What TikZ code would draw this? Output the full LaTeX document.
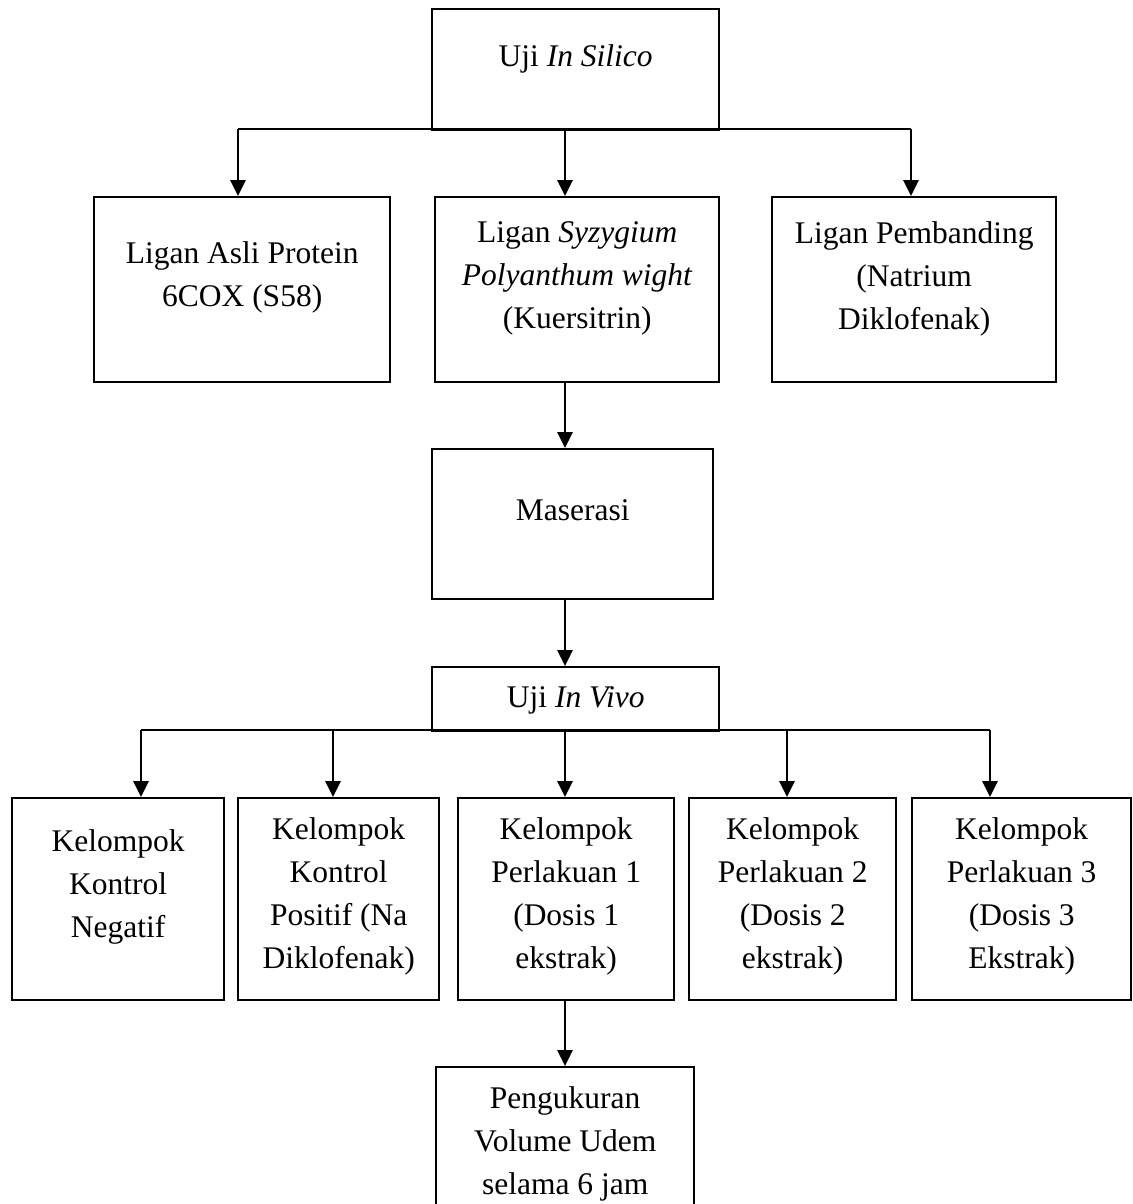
\documentclass[tikz,border=0pt]{standalone}
\usepackage{fontspec}
\setmainfont{Liberation Serif}
\usetikzlibrary{arrows.meta}

\tikzset{
  kotak/.style={draw, line width=2.4pt, inner sep=0pt, anchor=north west,
    font=\fontsize{31.5}{43}\selectfont},
  garis/.style={line width=2.8pt},
  panah/.style={line width=2.8pt, -{Triangle[width=15pt,length=16pt]}}
}
% isi kotak: lebar, tinggi, jarak atas, teks
\newcommand{\isi}[4]{\parbox[c][#2pt][t]{#1pt}{\centering\vspace*{#3pt}\strut #4}}

\begin{document}
\begin{tikzpicture}[x=1pt,y=-1pt]
\useasboundingbox (0,0) rectangle (1132,1204);
\clip (0,0) rectangle (1132,1204);

% Uji in silico
\node[kotak] (silico) at (431,8) {\isi{287}{121}{27}{Uji \textit{In Silico}}};
\node[kotak] (asli) at (93,196) {\isi{296}{185}{36}{Ligan Asli Protein\\ 6COX (S58)}};
\node[kotak] (syzygium) at (434,196) {\isi{284}{185}{15}{Ligan \textit{Syzygium}\\ \textit{Polyanthum wight}\\ (Kuersitrin)}};
\node[kotak] (banding) at (771,196) {\isi{284}{185}{16}{Ligan Pembanding\\ (Natrium\\ Diklofenak)}};

% Maserasi
\node[kotak] (maserasi) at (431,448) {\isi{281}{150}{41}{Maserasi}};

% Uji in vivo
\node[kotak] (invivo) at (431,666) {\isi{287}{64}{10}{Uji \textit{In Vivo}}};
\node[kotak] (negatif) at (11,797) {\isi{212}{202}{23}{Kelompok\\ Kontrol\\ Negatif}};
\node[kotak] (positif) at (237,797) {\isi{201}{202}{11}{Kelompok\\ Kontrol\\ Positif (Na\\ Diklofenak)}};
\node[kotak] (dosis1) at (457,797) {\isi{216}{202}{11}{Kelompok\\ Perlakuan 1\\ (Dosis 1\\ ekstrak)}};
\node[kotak] (dosis2) at (688,797) {\isi{207}{202}{11}{Kelompok\\ Perlakuan 2\\ (Dosis 2\\ ekstrak)}};
\node[kotak] (dosis3) at (911,797) {\isi{219}{202}{11}{Kelompok\\ Perlakuan 3\\ (Dosis 3\\ Ekstrak)}};

% Pengukuran
\node[kotak] (ukur) at (435,1066) {\isi{258}{150}{11}{Pengukuran\\ Volume Udem\\ selama 6 jam}};

% Cabang in silico
\coordinate (s1) at (238,129);
\coordinate (s2) at (565,129);
\coordinate (s3) at (911,129);
\draw[garis] (s1) -- (s3);
\foreach \s/\k in {s1/asli, s2/syzygium, s3/banding}
  \draw[panah] (\s) -- (\s |- \k.north);

% Alur tengah
\draw[panah] (syzygium.south -| s2) -- (maserasi.north -| s2);
\draw[panah] (maserasi.south -| s2) -- (invivo.north -| s2);

% Cabang in vivo
\coordinate (v1) at (141,730);
\coordinate (v2) at (333,730);
\coordinate (v3) at (565,730);
\coordinate (v4) at (787,730);
\coordinate (v5) at (990,730);
\draw[garis] (v1) -- (v5);
\foreach \v/\k in {v1/negatif, v2/positif, v3/dosis1, v4/dosis2, v5/dosis3}
  \draw[panah] (\v) -- (\v |- \k.north);

\draw[panah] (dosis1.south -| v3) -- (ukur.north -| v3);
\end{tikzpicture}
\end{document}
